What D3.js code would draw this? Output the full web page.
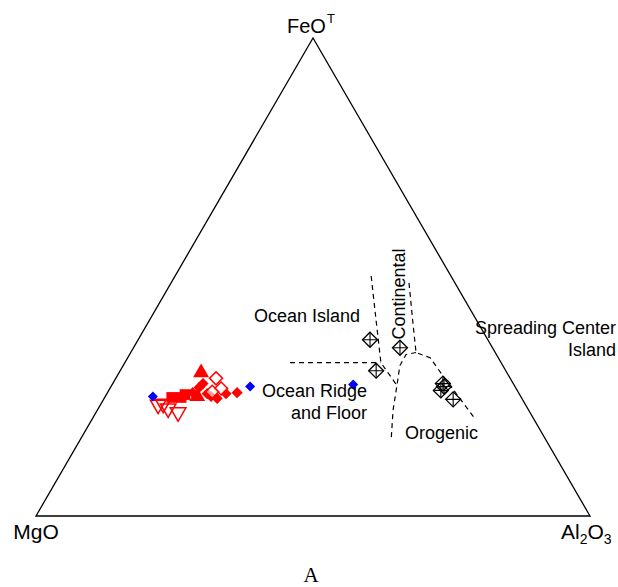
<!DOCTYPE html>
<html><head><meta charset="utf-8">
<script src="https://cdn.jsdelivr.net/npm/d3@7"></script>
<style>body{margin:0;background:#fff}svg{display:block}</style>
</head><body><svg id="c" width="618" height="587"></svg>
<script>
// ternary values: [MgO, FeOT, Al2O3] (percent)
const boundaryRidgeTop = [[38.1,32.1,29.8],[21.8,32.1,46.1]];
const boundaryIslandContinental = [[14.4,50.2,35.4],[18.2,40.8,41.0],[21.7,32.1,46.2],[21.2,27.3,51.5]];
const boundaryContinentalSpreading = [[8.3,48.8,43.0],[11.6,40.8,47.6],[14.3,34.2,51.5],[12.3,33.1,54.6],[11.9,29.4,58.8],[10.6,20.4,69.0]];
const boundaryOrogenicRidge = [[14.3,34.2,51.5],[16.3,33.8,49.9],[18.6,31.5,50.0],[21.2,27.3,51.5],[24.5,22.1,53.4],[28.0,15.8,56.2]];

const blackDiamonds = [[21.3,36.9,41.9],[16.7,35.2,48.1],[23.4,30.4,46.2],[12.7,27.7,59.6],[12.8,27.1,60.1],[13.8,26.3,60.0],[12.5,24.4,63.1]];
const blueDiamonds = [[66.4,25.0,8.6],[47.8,27.1,25.1],[29.0,27.5,43.5]];
const redTriDownOpen = [[66.3,23.3,10.4],[65.3,23.5,11.2],[64.9,22.5,12.6],[63.5,21.7,14.8]];
const redSquares = [[63.1,24.8,12.1],[61.4,24.8,13.8],[60.4,25.4,14.2]];
const redTriUp = [[55.2,30.0,14.8],[58.4,25.0,16.6]];
const redDiamonds = [[57.1,26.9,16.0],[56.0,27.7,16.3],[56.3,25.6,18.1],[55.9,25.0,19.1],[55.0,24.6,20.4],[50.8,25.8,23.4],[58.8,25.8,15.4],[52.9,25.6,21.5]];
const redDiamondsOpen = [[53.1,28.8,18.1],[53.3,26.7,20.1],[55.2,26.0,18.8]];

const vertexLabels = ["MgO","FeO","Al2O3"];
const fieldLabels = ["Ocean Island","Continental","Spreading Center","Island","Ocean Ridge","and Floor","Orogenic"];
const panelLabel = "A";

const svg = d3.select("#c");
const xS = d3.scaleLinear().domain([0,1]).range([36,590]);
const yS = d3.scaleLinear().domain([0,1]).range([516,38]);
function proj(d){
  const s = d[0]+d[1]+d[2];
  const f = d[1]/s, a = d[2]/s;
  return [xS(a + f/2), yS(f)];
}
const line = d3.line().x(d=>proj(d)[0]).y(d=>proj(d)[1]);

// triangle
svg.append("path").attr("d", line([[100,0,0],[0,100,0],[0,0,100],[100,0,0]]) + "Z")
  .attr("fill","none").attr("stroke","#000").attr("stroke-width",1.3).attr("stroke-linejoin","miter");

// boundaries
[boundaryRidgeTop, boundaryIslandContinental, boundaryContinentalSpreading, boundaryOrogenicRidge].forEach(b=>{
  svg.append("path").attr("d", line(b))
    .attr("fill","none").attr("stroke","#000").attr("stroke-width",1.2).attr("stroke-dasharray","5,4");
});

const font = "'Liberation Sans', Arial, Helvetica, sans-serif";
function sym(type, size){ return d3.symbol().type(type).size(size)(); }

// red open triangles (pointing down)
svg.selectAll(".rtd").data(redTriDownOpen).join("path")
  .attr("d", sym(d3.symbolTriangle, 105))
  .attr("transform", d=>`translate(${proj(d)}) rotate(180)`)
  .attr("fill","none").attr("stroke","#f00").attr("stroke-width",1.5);
// red squares
svg.selectAll(".rsq").data(redSquares).join("path")
  .attr("d", sym(d3.symbolSquare, 115))
  .attr("transform", d=>`translate(${proj(d)})`)
  .attr("fill","#f00");
// red triangles up
svg.selectAll(".rtu").data(redTriUp).join("path")
  .attr("d", sym(d3.symbolTriangle, 110))
  .attr("transform", d=>`translate(${proj(d)})`)
  .attr("fill","#f00");
// red filled diamonds
svg.selectAll(".rd").data(redDiamonds).join("path")
  .attr("d", sym(d3.symbolSquare, 62))
  .attr("transform", d=>`translate(${proj(d)}) rotate(45)`)
  .attr("fill","#f00");
// red open diamonds
svg.selectAll(".rdo").data(redDiamondsOpen).join("path")
  .attr("d", sym(d3.symbolSquare, 85))
  .attr("transform", d=>`translate(${proj(d)}) rotate(45)`)
  .attr("fill","#fff").attr("fill-opacity",0.6).attr("stroke","#f00").attr("stroke-width",1.5);
// blue diamonds
svg.selectAll(".bd").data(blueDiamonds).join("path")
  .attr("d", sym(d3.symbolSquare, 50))
  .attr("transform", d=>`translate(${proj(d)}) rotate(45)`)
  .attr("fill","#00f");
// black diamonds with cross
const bg = svg.selectAll(".kd").data(blackDiamonds).join("g")
  .attr("transform", d=>`translate(${proj(d)})`);
const r = 7.5;
bg.append("path").attr("d", `M0,${-r}L${r},0L0,${r}L${-r},0Z`)
  .attr("fill","none").attr("stroke","#000").attr("stroke-width",1.3);
bg.append("path").attr("d", `M0,${-r}V${r}M${-r},0H${r}`)
  .attr("stroke","#000").attr("stroke-width",1.1);

// vertex labels
const t1 = svg.append("text").attr("x",287).attr("y",33).attr("text-anchor","start")
  .attr("font-family",font).attr("font-size",20);
t1.append("tspan").text(vertexLabels[1]);
t1.append("tspan").attr("dy",-10).attr("dx",1).attr("font-size",13).text("T");
svg.append("text").attr("x",36).attr("y",539).attr("text-anchor","middle")
  .attr("font-family",font).attr("font-size",21).text(vertexLabels[0]);
const t3 = svg.append("text").attr("x",561).attr("y",539).attr("text-anchor","start")
  .attr("font-family",font).attr("font-size",21);
t3.append("tspan").text("Al");
t3.append("tspan").attr("dy",5).attr("font-size",14).text("2");
t3.append("tspan").attr("dy",-5).text("O");
t3.append("tspan").attr("dy",5).attr("font-size",14).text("3");

// field labels
const fl = (txt,x,y,anchor,rot)=>{
  const t = svg.append("text").attr("font-family",font).attr("font-size",18)
    .attr("text-anchor",anchor||"start").text(txt);
  if(rot) t.attr("transform",`translate(${x},${y}) rotate(${rot})`);
  else t.attr("x",x).attr("y",y);
};
fl(fieldLabels[0],254,322);
fl(fieldLabels[1],405,294,"middle",-90);
fl(fieldLabels[2],616,334,"end");
fl(fieldLabels[3],616,356,"end");
fl(fieldLabels[4],367,397,"end");
fl(fieldLabels[5],367,419,"end");
fl(fieldLabels[6],405,439);

svg.append("text").attr("x",311).attr("y",582).attr("text-anchor","middle")
  .attr("font-family","'Liberation Serif', 'Times New Roman', serif").attr("font-size",21).text(panelLabel);
</script></body></html>
